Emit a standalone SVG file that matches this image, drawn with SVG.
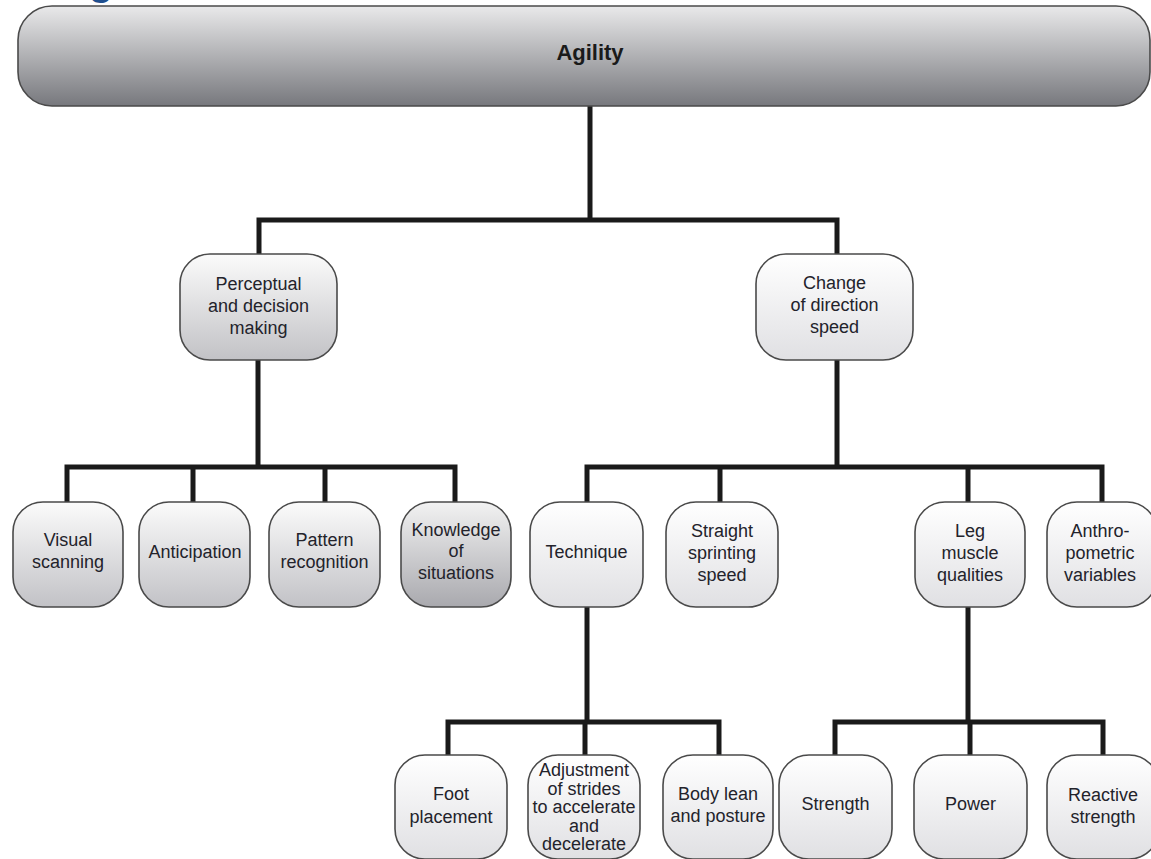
<svg xmlns="http://www.w3.org/2000/svg" width="1151" height="859" viewBox="0 0 1151 859">
  <defs>
    <linearGradient id="gTop" x1="0" y1="0" x2="0" y2="1">
      <stop offset="0" stop-color="#e9e9ea"/>
      <stop offset="1" stop-color="#77787d"/>
    </linearGradient>
    <linearGradient id="gLight" x1="0" y1="0" x2="0" y2="1">
      <stop offset="0" stop-color="#ffffff"/>
      <stop offset="1" stop-color="#e0e0e3"/>
    </linearGradient>
    <linearGradient id="gMid" x1="0" y1="0" x2="0" y2="1">
      <stop offset="0" stop-color="#fbfbfb"/>
      <stop offset="1" stop-color="#c2c2c6"/>
    </linearGradient>
    <linearGradient id="gDark" x1="0" y1="0" x2="0" y2="1">
      <stop offset="0" stop-color="#f2f2f2"/>
      <stop offset="1" stop-color="#a9a9ae"/>
    </linearGradient>
  </defs>
  <style>
    .box { stroke: #4a4a4a; stroke-width: 1.6; }
    .light { fill: url(#gLight); }
    .mid { fill: url(#gMid); }
    .dark { fill: url(#gDark); }
    .lbl { font-family: "Liberation Sans", Arial, sans-serif; font-size: 18px; fill: #23232b; text-anchor: middle; }
    .title { font-family: "Liberation Sans", Arial, sans-serif; font-size: 22px; font-weight: bold; fill: #1a1a1a; text-anchor: middle; }
    .wire { fill: none; stroke: #1a1a1a; stroke-width: 5; stroke-linejoin: miter; stroke-linecap: square; }
  </style>

  <rect width="1151" height="859" fill="#ffffff"/>

  <!-- heading fragment above the banner -->
  <text x="101" y="-5" font-family="Liberation Sans, Arial, sans-serif" font-size="40" font-weight="bold" fill="#1f4f8f" text-anchor="middle">g</text>

  <!-- connectors -->
  <g id="connectors">
    <path class="wire" d="M590 106 V220 M259 220 H837 M259 220 V254 M837 220 V254"/>
    <path class="wire" d="M258 360 V467 M67 467 H455 M67 467 V502 M193 467 V502 M325 467 V502 M455 467 V502"/>
    <path class="wire" d="M837 360 V467 M587 467 H1102 M587 467 V502 M720 467 V502 M968 467 V502 M1102 467 V502"/>
    <path class="wire" d="M587 607 V722 M448 722 H719 M448 722 V755 M585 722 V755 M719 722 V755"/>
    <path class="wire" d="M968 607 V722 M835 722 H1103 M835 722 V755 M970 722 V755 M1103 722 V755"/>
  </g>

  <g id="agility">
    <rect class="box" x="18" y="6" width="1132" height="100" rx="34" fill="url(#gTop)"/>
    <text class="title" x="590" y="60">Agility</text>
  </g>

  <g id="perceptual">
    <rect class="box mid" x="180" y="254" width="157" height="106" rx="30"/>
    <text class="lbl" x="258.5" y="290">Perceptual</text>
    <text class="lbl" x="258.5" y="312">and decision</text>
    <text class="lbl" x="258.5" y="334">making</text>
  </g>

  <g id="change-of-direction">
    <rect class="box light" x="756" y="254" width="157" height="106" rx="30"/>
    <text class="lbl" x="834.5" y="289">Change</text>
    <text class="lbl" x="834.5" y="311">of direction</text>
    <text class="lbl" x="834.5" y="333">speed</text>
  </g>

  <g id="visual-scanning">
    <rect class="box mid" x="13" y="502" width="110" height="105" rx="30"/>
    <text class="lbl" x="68" y="546">Visual</text>
    <text class="lbl" x="68" y="568">scanning</text>
  </g>

  <g id="anticipation">
    <rect class="box mid" x="139" y="502" width="111" height="105" rx="30"/>
    <text class="lbl" x="195" y="558">Anticipation</text>
  </g>

  <g id="pattern-recognition">
    <rect class="box mid" x="269" y="502" width="111" height="105" rx="30"/>
    <text class="lbl" x="324.5" y="546">Pattern</text>
    <text class="lbl" x="324.5" y="568">recognition</text>
  </g>

  <g id="knowledge">
    <rect class="box dark" x="401" y="502" width="110" height="105" rx="30"/>
    <text class="lbl" x="456" y="536">Knowledge</text>
    <text class="lbl" x="456" y="557">of</text>
    <text class="lbl" x="456" y="579">situations</text>
  </g>

  <g id="technique">
    <rect class="box light" x="530" y="502" width="113" height="105" rx="30"/>
    <text class="lbl" x="586.5" y="558">Technique</text>
  </g>

  <g id="straight-sprinting">
    <rect class="box light" x="666" y="502" width="112" height="105" rx="30"/>
    <text class="lbl" x="722" y="537">Straight</text>
    <text class="lbl" x="722" y="559">sprinting</text>
    <text class="lbl" x="722" y="581">speed</text>
  </g>

  <g id="leg-muscle">
    <rect class="box light" x="915" y="502" width="110" height="105" rx="30"/>
    <text class="lbl" x="970" y="537">Leg</text>
    <text class="lbl" x="970" y="559">muscle</text>
    <text class="lbl" x="970" y="581">qualities</text>
  </g>

  <g id="anthropometric">
    <rect class="box light" x="1047" y="502" width="110" height="105" rx="30"/>
    <text class="lbl" x="1100" y="537">Anthro-</text>
    <text class="lbl" x="1100" y="559">pometric</text>
    <text class="lbl" x="1100" y="581">variables</text>
  </g>

  <g id="foot-placement">
    <rect class="box light" x="395" y="755" width="112" height="104" rx="30"/>
    <text class="lbl" x="451" y="800">Foot</text>
    <text class="lbl" x="451" y="823">placement</text>
  </g>

  <g id="adjustment">
    <rect class="box light" x="528" y="755" width="112" height="104" rx="30"/>
    <text class="lbl" x="584" y="776">Adjustment</text>
    <text class="lbl" x="584" y="795">of strides</text>
    <text class="lbl" x="584" y="813">to accelerate</text>
    <text class="lbl" x="584" y="832">and</text>
    <text class="lbl" x="584" y="850">decelerate</text>
  </g>

  <g id="body-lean">
    <rect class="box light" x="663" y="755" width="110" height="104" rx="30"/>
    <text class="lbl" x="718" y="800">Body lean</text>
    <text class="lbl" x="718" y="822">and posture</text>
  </g>

  <g id="strength">
    <rect class="box light" x="779" y="755" width="113" height="104" rx="30"/>
    <text class="lbl" x="835.5" y="810">Strength</text>
  </g>

  <g id="power">
    <rect class="box light" x="914" y="755" width="113" height="104" rx="30"/>
    <text class="lbl" x="970.5" y="810">Power</text>
  </g>

  <g id="reactive-strength">
    <rect class="box light" x="1047" y="755" width="112" height="104" rx="30"/>
    <text class="lbl" x="1103" y="801">Reactive</text>
    <text class="lbl" x="1103" y="823">strength</text>
  </g>
</svg>
